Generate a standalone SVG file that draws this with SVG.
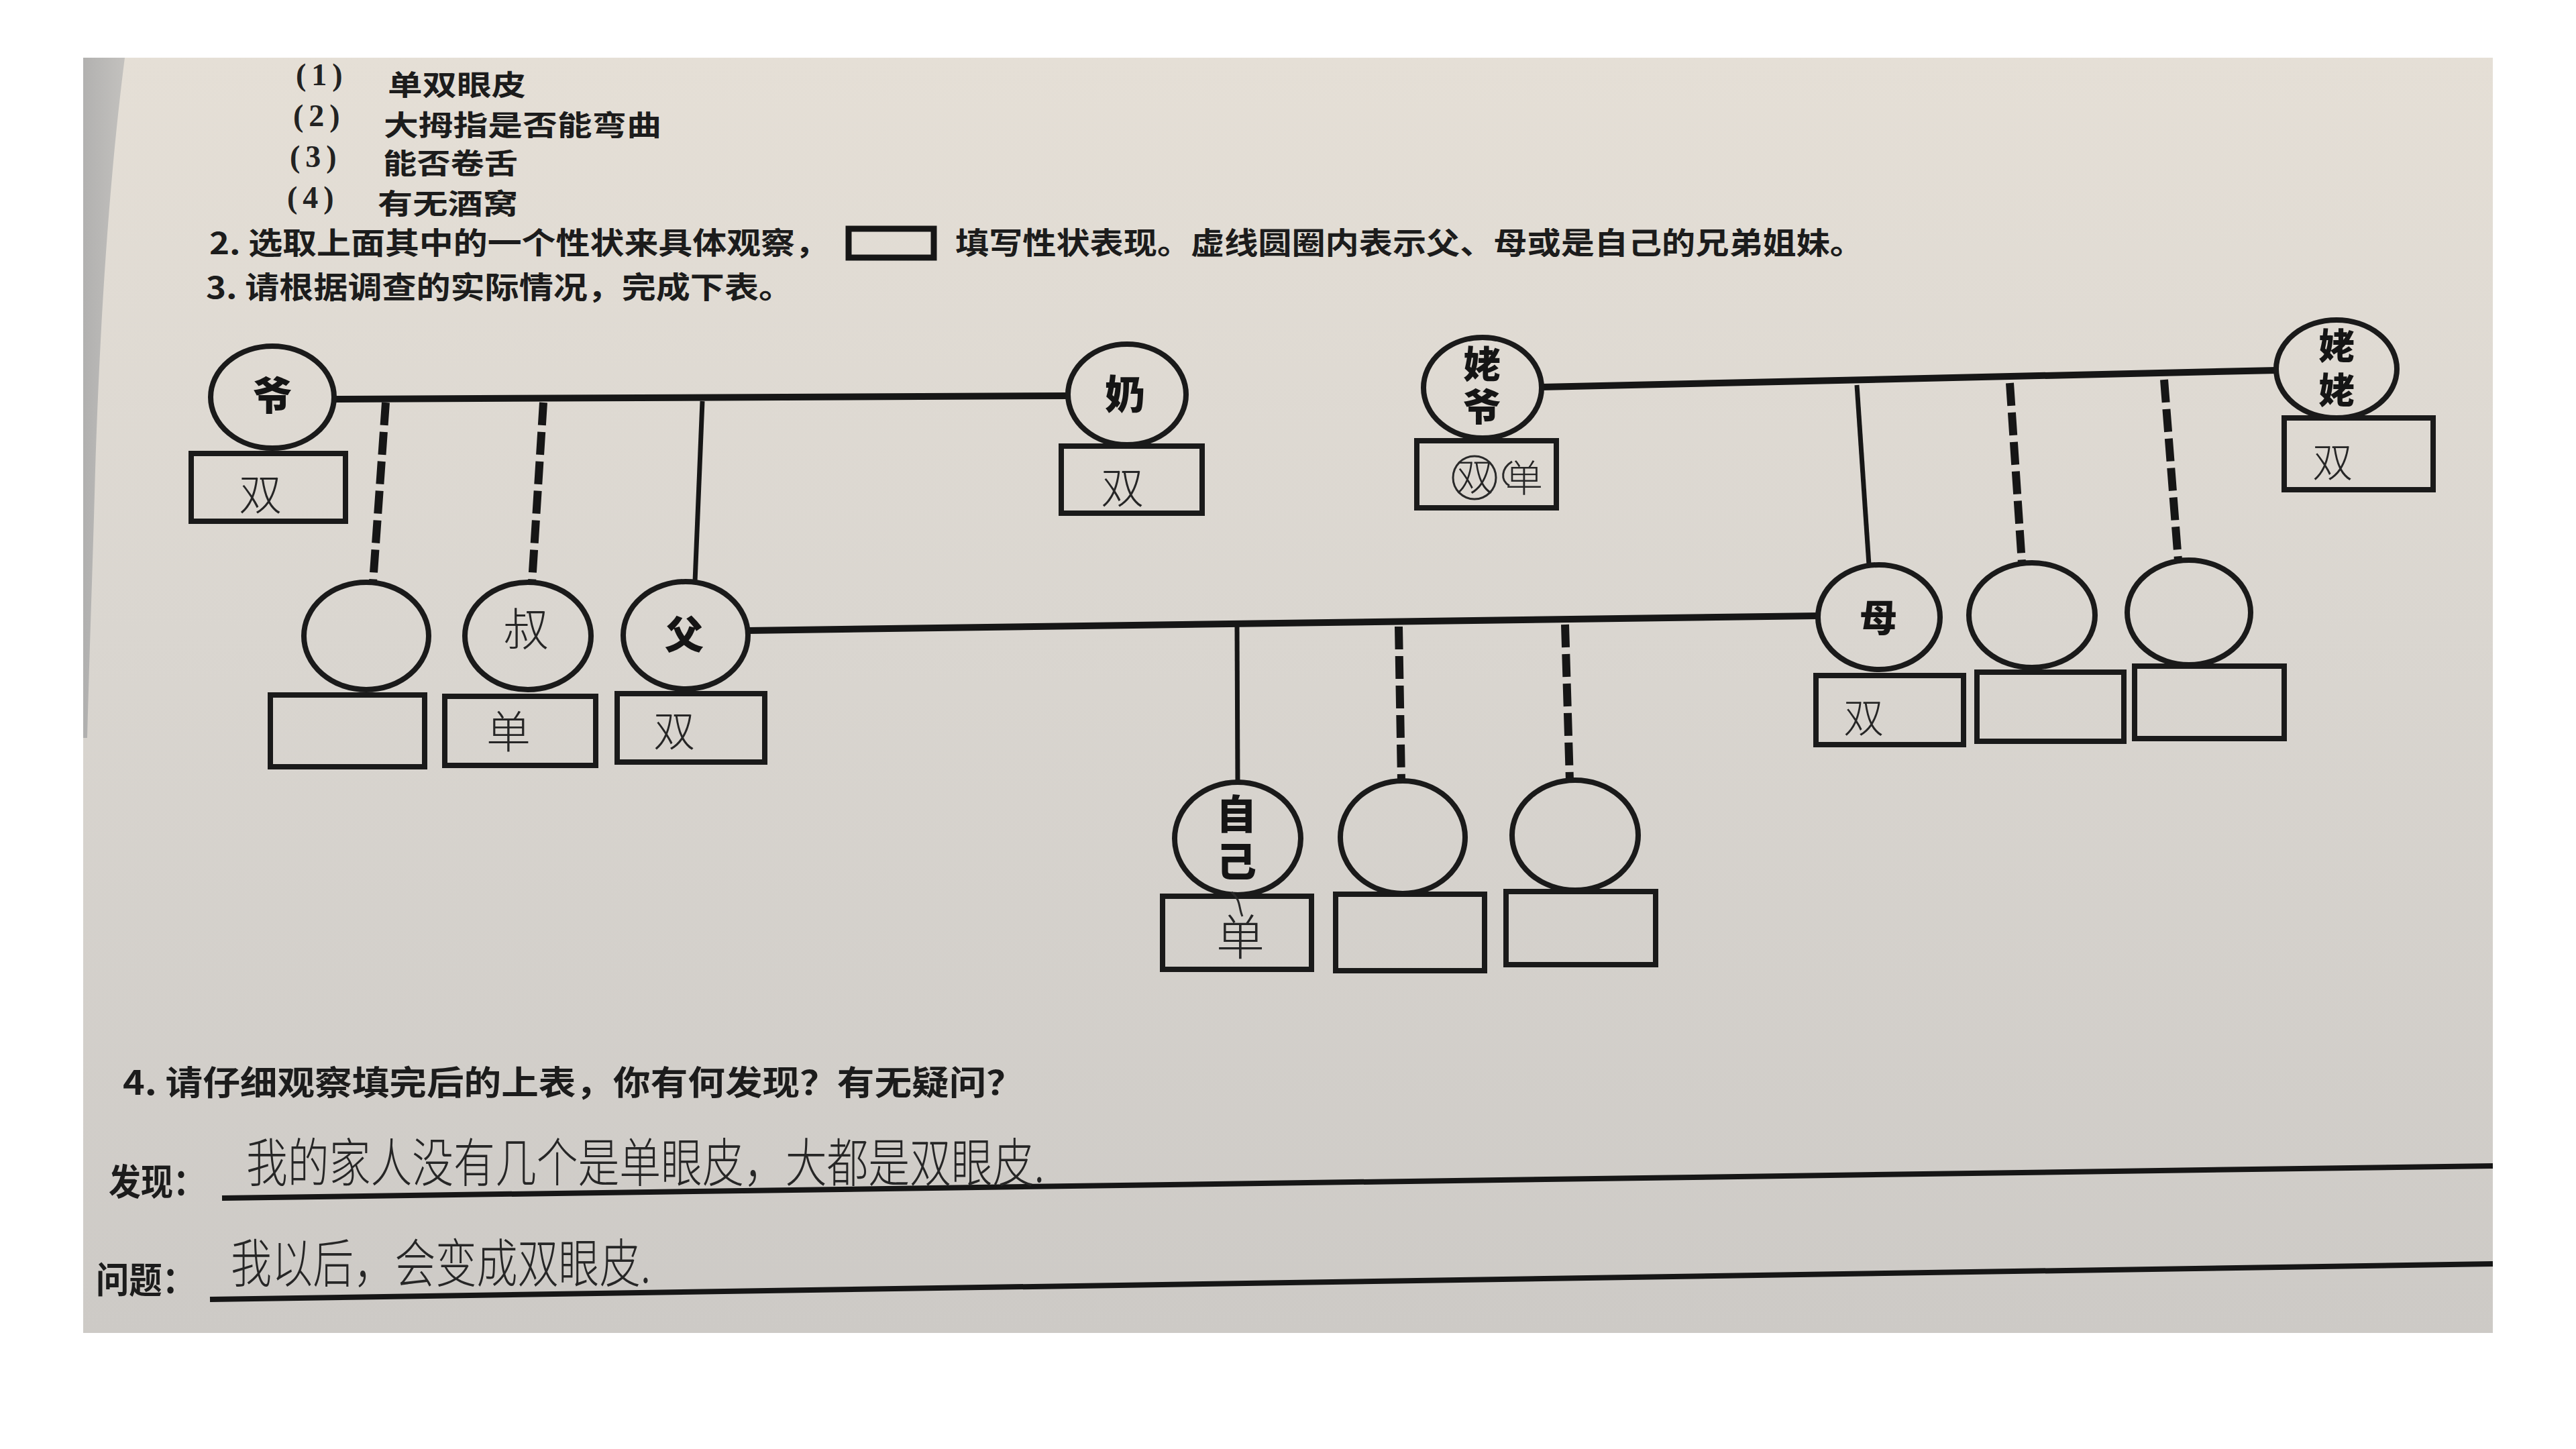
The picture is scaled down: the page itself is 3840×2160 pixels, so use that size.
<svg xmlns="http://www.w3.org/2000/svg" width="3840" height="2160" viewBox="0 0 3840 2160">
<defs>
<linearGradient id="paper" x1="0" y1="0" x2="0" y2="1">
<stop offset="0" stop-color="#e5dfd6"/>
<stop offset="0.45" stop-color="#dad6d0"/>
<stop offset="1" stop-color="#cdcac6"/>
</linearGradient>
<linearGradient id="edge" x1="0" y1="0" x2="1" y2="0">
<stop offset="0" stop-color="#a9a9a9"/>
<stop offset="1" stop-color="#bdbcba"/>
</linearGradient>
<style>
.ln{stroke:#161616;fill:none;stroke-linecap:butt}
.main{stroke-width:10}
.solid{stroke-width:7}
.dash{stroke-width:12;stroke-dasharray:34 10}
.c{fill:none;stroke:#1a1a1a;stroke-width:8}
.b{fill:none;stroke:#1a1a1a;stroke-width:8}
.p{font-family:"Noto Sans CJK SC","Noto Sans CJK TC",sans-serif;font-weight:700;fill:#1c1c1c}
.n{font-family:"Liberation Serif",serif;font-weight:700;fill:#222}
.lab{font-family:"Noto Sans CJK SC",sans-serif;font-weight:900;fill:#151515;text-anchor:middle}
.v{writing-mode:vertical-rl}
.h{font-family:"Noto Sans CJK SC","Noto Sans CJK TC",sans-serif;font-weight:300;fill:#262626}
.hc{text-anchor:middle}
</style>
</defs>
<rect width="3840" height="2160" fill="#ffffff"/>
<rect x="124" y="86" width="3592" height="1901" fill="url(#paper)"/>
<path d="M124,86 L186,86 C165,250 150,450 142,700 C138,850 134,950 130,1100 L124,1100 Z" fill="url(#edge)" opacity="0.85"/>

<!-- printed text -->
<text class="n" x="441" y="127" font-size="46" letter-spacing="8">(1)</text>
<text class="p" x="578" y="142" font-size="42" textLength="206" lengthAdjust="spacingAndGlyphs">单双眼皮</text>
<text class="n" x="437" y="188" font-size="46" letter-spacing="8">(2)</text>
<text class="p" x="572" y="202" font-size="42" textLength="414" lengthAdjust="spacingAndGlyphs">大拇指是否能弯曲</text>
<text class="n" x="432" y="249" font-size="46" letter-spacing="8">(3)</text>
<text class="p" x="571" y="259" font-size="42" textLength="201" lengthAdjust="spacingAndGlyphs">能否卷舌</text>
<text class="n" x="428" y="310" font-size="46" letter-spacing="8">(4)</text>
<text class="p" x="563" y="319" font-size="42" textLength="209" lengthAdjust="spacingAndGlyphs">有无酒窝</text>
<text class="p" x="312" y="379" font-size="45" textLength="924" lengthAdjust="spacingAndGlyphs">2. 选取上面其中的一个性状来具体观察，</text>
<rect x="1265" y="341" width="127" height="43" fill="none" stroke="#161616" stroke-width="9"/>
<text class="p" x="1424" y="379" font-size="45" textLength="1354" lengthAdjust="spacingAndGlyphs">填写性状表现。虚线圆圈内表示父、母或是自己的兄弟姐妹。</text>
<text class="p" x="307" y="445" font-size="45" textLength="875" lengthAdjust="spacingAndGlyphs">3. 请根据调查的实际情况，完成下表。</text>

<!-- connectors -->
<g id="connectors">
<line class="ln main" x1="499" y1="595" x2="1592" y2="590"/>
<line class="ln dash" x1="575" y1="600" x2="556" y2="868"/>
<line class="ln dash" x1="810" y1="600" x2="793" y2="868"/>
<line class="ln solid" x1="1047" y1="598" x2="1036" y2="867"/>
<line class="ln main" x1="1114" y1="940" x2="2710" y2="918"/>
<line class="ln solid" x1="1844" y1="934" x2="1845" y2="1166"/>
<line class="ln dash" x1="2085" y1="934" x2="2089" y2="1164"/>
<line class="ln dash" x1="2333" y1="931" x2="2340" y2="1164"/>
<line class="ln main" x1="2298" y1="577" x2="3394" y2="552"/>
<line class="ln solid" x1="2768" y1="574" x2="2786" y2="842"/>
<line class="ln dash" x1="2996" y1="571" x2="3014" y2="839"/>
<line class="ln dash" x1="3226" y1="566" x2="3247" y2="835"/>
</g>

<!-- nodes -->
<g id="node-grandpa">
<ellipse class="c" cx="406" cy="592" rx="92" ry="76"/>
<text class="lab" x="406" y="611" font-size="58">爷</text>
<rect class="b" x="285" y="676" width="230" height="101"/>
<text class="h hc" x="388" y="760" font-size="64">双</text>
</g>
<g id="node-grandma">
<ellipse class="c" cx="1680" cy="588" rx="88" ry="75"/>
<text class="lab" x="1677" y="610" font-size="60">奶</text>
<rect class="b" x="1582" y="665" width="210" height="100"/>
<text class="h hc" x="1673" y="750" font-size="64">双</text>
</g>
<g id="node-maternal-grandpa">
<ellipse class="c" cx="2210" cy="578" rx="88" ry="75"/>
<text class="lab v" x="2209" y="578" font-size="56" letter-spacing="8">姥爷</text>
<rect class="b" x="2112" y="657" width="208" height="100"/>
<text class="h hc" x="2198" y="731" font-size="56">双</text>
<ellipse cx="2198" cy="712" rx="32" ry="32" fill="none" stroke="#2a2a2a" stroke-width="3"/>
<path d="M2254,688 C2238,698 2236,716 2250,724" fill="none" stroke="#2a2a2a" stroke-width="3"/>
<text class="h hc" x="2272" y="733" font-size="56">单</text>
</g>
<g id="node-maternal-grandma">
<ellipse class="c" cx="3483" cy="550" rx="90" ry="73"/>
<text class="lab v" x="3483" y="554" font-size="54" letter-spacing="12">姥姥</text>
<rect class="b" x="3405" y="623" width="222" height="107"/>
<text class="h hc" x="3477" y="711" font-size="60">双</text>
</g>
<g id="node-paternal-sibling">
<ellipse class="c" cx="546" cy="948" rx="93" ry="80"/>
<rect class="b" x="403" y="1036" width="230" height="107"/>
</g>
<g id="node-uncle">
<ellipse class="c" cx="787" cy="948" rx="94" ry="80"/>
<text class="h hc" x="784" y="963" font-size="68">叔</text>
<rect class="b" x="663" y="1038" width="225" height="103"/>
<text class="h hc" x="758" y="1115" font-size="66">单</text>
</g>
<g id="node-father">
<ellipse class="c" cx="1022" cy="947" rx="93" ry="80"/>
<text class="lab" x="1020" y="967" font-size="58">父</text>
<rect class="b" x="920" y="1034" width="220" height="102"/>
<text class="h hc" x="1005" y="1113" font-size="62">双</text>
</g>
<g id="node-mother">
<ellipse class="c" cx="2801" cy="920" rx="91" ry="78"/>
<text class="lab" x="2800" y="941" font-size="56">母</text>
<rect class="b" x="2707" y="1007" width="220" height="103"/>
<text class="h hc" x="2778" y="1092" font-size="60">双</text>
</g>
<g id="node-maternal-sibling-1">
<ellipse class="c" cx="3029" cy="917" rx="94" ry="78"/>
<rect class="b" x="2947" y="1002" width="219" height="103"/>
</g>
<g id="node-maternal-sibling-2">
<ellipse class="c" cx="3263" cy="913" rx="92" ry="78"/>
<rect class="b" x="3182" y="993" width="223" height="108"/>
</g>
<g id="node-self">
<ellipse class="c" cx="1845" cy="1250" rx="94" ry="84"/>
<text class="lab v" x="1843" y="1253" font-size="60" letter-spacing="10">自己</text>
<rect class="b" x="1733" y="1336" width="222" height="109"/>
<path d="M1836,1330 C1850,1342 1846,1352 1852,1366" fill="none" stroke="#2a2a2a" stroke-width="3"/>
<text class="h hc" x="1849" y="1423" font-size="72">单</text>
</g>
<g id="node-self-sibling-1">
<ellipse class="c" cx="2091" cy="1248" rx="93" ry="84"/>
<rect class="b" x="1991" y="1333" width="222" height="114"/>
</g>
<g id="node-self-sibling-2">
<ellipse class="c" cx="2348" cy="1245" rx="94" ry="82"/>
<rect class="b" x="2245" y="1329" width="223" height="109"/>
</g>

<!-- question 4 -->
<text class="p" x="183" y="1632" font-size="50" textLength="1343" lengthAdjust="spacingAndGlyphs">4. 请仔细观察填完后的上表，你有何发现？有无疑问？</text>
<text class="p" x="162" y="1782" font-size="54" textLength="144" lengthAdjust="spacingAndGlyphs">发现：</text>
<text class="p" x="143" y="1928" font-size="54" textLength="148" lengthAdjust="spacingAndGlyphs">问题：</text>
<line class="ln" stroke-width="8" x1="331" y1="1786" x2="3716" y2="1738"/>
<line class="ln" stroke-width="8" x1="313" y1="1937" x2="3716" y2="1884"/>
<text class="h" x="367" y="1762" font-size="78" textLength="1190" lengthAdjust="spacingAndGlyphs">我的家人没有几个是单眼皮，大都是双眼皮.</text>
<text class="h" x="344" y="1912" font-size="78" textLength="626" lengthAdjust="spacingAndGlyphs">我以后，会变成双眼皮.</text>
</svg>
